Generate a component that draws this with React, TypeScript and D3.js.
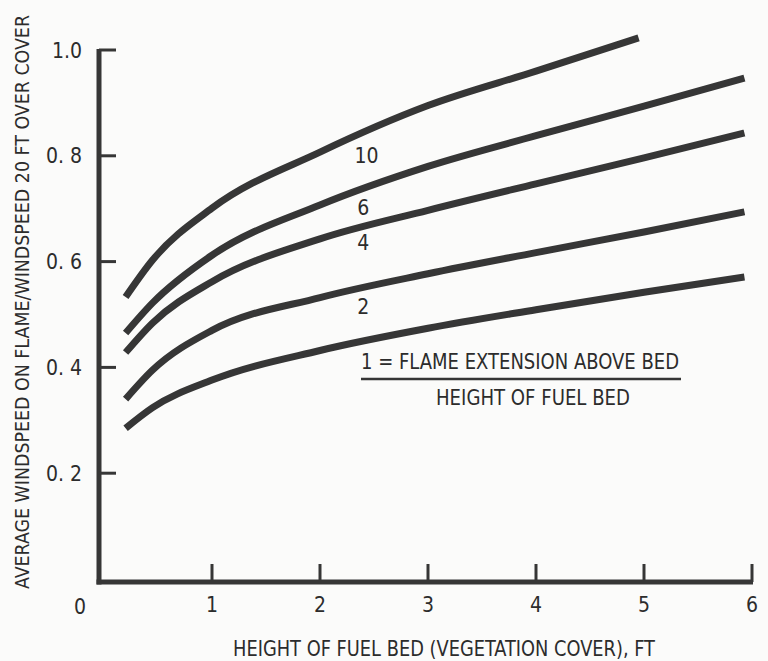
import React from "react";
import * as d3 from "d3";

const xTicks = [1, 2, 3, 4, 5, 6];
const xTickLabels = ["1", "2", "3", "4", "5", "6"];
const yTicks = [0.2, 0.4, 0.6, 0.8, 1.0];
const yTickLabels = ["0. 2", "0. 4", "0. 6", "0. 8", "1.0"];

const xs = [0.2, 0.45, 1, 2, 3, 4, 5, 5.93];
const xs10 = [0.2, 0.45, 1, 2, 3, 4, 4.95];
const ratio1 = [0.285, 0.324, 0.376, 0.432, 0.474, 0.509, 0.542, 0.571];
const ratio2 = [0.34, 0.395, 0.47, 0.532, 0.577, 0.617, 0.656, 0.694];
const ratio4 = [0.428, 0.484, 0.562, 0.643, 0.697, 0.747, 0.796, 0.843];
const ratio6 = [0.465, 0.522, 0.612, 0.707, 0.78, 0.838, 0.894, 0.947];
const ratio10 = [0.533, 0.603, 0.701, 0.807, 0.895, 0.96, 1.023];

const curveNames = ["1", "2", "4", "6", "10"];
const curveLabelX = [null, 2.4, 2.4, 2.4, 2.43];
const curveLabelY = [null, 0.515, 0.637, 0.702, 0.8];

const W = 768;
const H = 661;
const FONT = "'Liberation Sans Narrow', 'DejaVu Sans Condensed', 'Roboto Condensed', sans-serif";
const INK = "#363636";

export default function App() {
  const x = d3.scaleLinear().domain([0, 6]).range([104, 752]);
  const y = d3.scaleLinear().domain([0, 1]).range([579, 50]);
  const line = d3
    .line<[number, number]>()
    .x((d) => x(d[0]))
    .y((d) => y(d[1]))
    .curve(d3.curveMonotoneX);

  const series: { name: string; xv: number[]; yv: number[] }[] = [
    { name: curveNames[0], xv: xs, yv: ratio1 },
    { name: curveNames[1], xv: xs, yv: ratio2 },
    { name: curveNames[2], xv: xs, yv: ratio4 },
    { name: curveNames[3], xv: xs, yv: ratio6 },
    { name: curveNames[4], xv: xs10, yv: ratio10 },
  ];

  const axisX = x(0) - 5;
  const axisY = y(0) + 3;

  return (
    <svg
      width={W}
      height={H}
      viewBox={`0 0 ${W} ${H}`}
      style={{ position: "absolute", left: 0, top: 0, background: "#fbfbfa" }}
    >
      <rect x={0} y={0} width={W} height={H} fill="#fbfbfa" />
      {series.map((s) => (
        <path
          key={s.name}
          d={line(s.xv.map((v, i) => [v, s.yv[i]] as [number, number])) || ""}
          fill="none"
          stroke={INK}
          strokeWidth={7}
          strokeLinecap="butt"
        />
      ))}
      <line x1={axisX} y1={y(1) - 1} x2={axisX} y2={axisY + 2.5} stroke={INK} strokeWidth={5} />
      <line x1={axisX - 2.5} y1={axisY} x2={x(6) + 1} y2={axisY} stroke={INK} strokeWidth={5} />
      {yTicks.map((t, i) => (
        <g key={"yt" + i}>
          <line x1={axisX} x2={axisX + 17} y1={y(t)} y2={y(t)} stroke={INK} strokeWidth={3} />
          <text
            x={82}
            y={y(t)}
            dy="0.36em"
            textAnchor="end"
            fontFamily={FONT}
            fontSize={21}
            fill="#2c2c2c"
          >
            {yTickLabels[i]}
          </text>
        </g>
      ))}
      {xTicks.map((t, i) => (
        <g key={"xt" + i}>
          <line x1={x(t)} x2={x(t)} y1={axisY} y2={axisY - 18} stroke={INK} strokeWidth={3} />
          <text
            x={x(t)}
            y={612}
            textAnchor="middle"
            fontFamily={FONT}
            fontSize={21}
            fill="#2c2c2c"
          >
            {xTickLabels[i]}
          </text>
        </g>
      ))}
      <text x={80} y={614} textAnchor="middle" fontFamily={FONT} fontSize={21} fill="#2c2c2c">
        0
      </text>
      {series.map((s, i) =>
        curveLabelX[i] == null ? null : (
          <text
            key={"cl" + i}
            x={x(curveLabelX[i] as number)}
            y={y(curveLabelY[i] as number)}
            dy="0.36em"
            textAnchor="middle"
            fontFamily={FONT}
            fontSize={21}
            fill="#2c2c2c"
          >
            {s.name}
          </text>
        )
      )}
      <text
        x={361}
        y={369}
        fontFamily={FONT}
        fontSize={21}
        fill="#2c2c2c"
        textLength={318}
        lengthAdjust="spacingAndGlyphs"
      >
        1 = FLAME EXTENSION ABOVE BED
      </text>
      <line x1={361} x2={681} y1={379} y2={379} stroke={INK} strokeWidth={2.5} />
      <text
        x={533}
        y={405}
        textAnchor="middle"
        fontFamily={FONT}
        fontSize={21}
        fill="#2c2c2c"
        textLength={194}
        lengthAdjust="spacingAndGlyphs"
      >
        HEIGHT OF FUEL BED
      </text>
      <text
        x={444}
        y={656}
        textAnchor="middle"
        fontFamily={FONT}
        fontSize={21}
        fill="#2c2c2c"
        textLength={422}
        lengthAdjust="spacingAndGlyphs"
      >
        HEIGHT OF FUEL BED (VEGETATION COVER), FT
      </text>
      <text
        transform={`translate(29, 302) rotate(-90)`}
        textAnchor="middle"
        fontFamily={FONT}
        fontSize={19}
        fill="#2c2c2c"
        textLength={574}
        lengthAdjust="spacingAndGlyphs"
      >
        AVERAGE WINDSPEED ON FLAME/WINDSPEED 20 FT OVER COVER
      </text>
    </svg>
  );
}
